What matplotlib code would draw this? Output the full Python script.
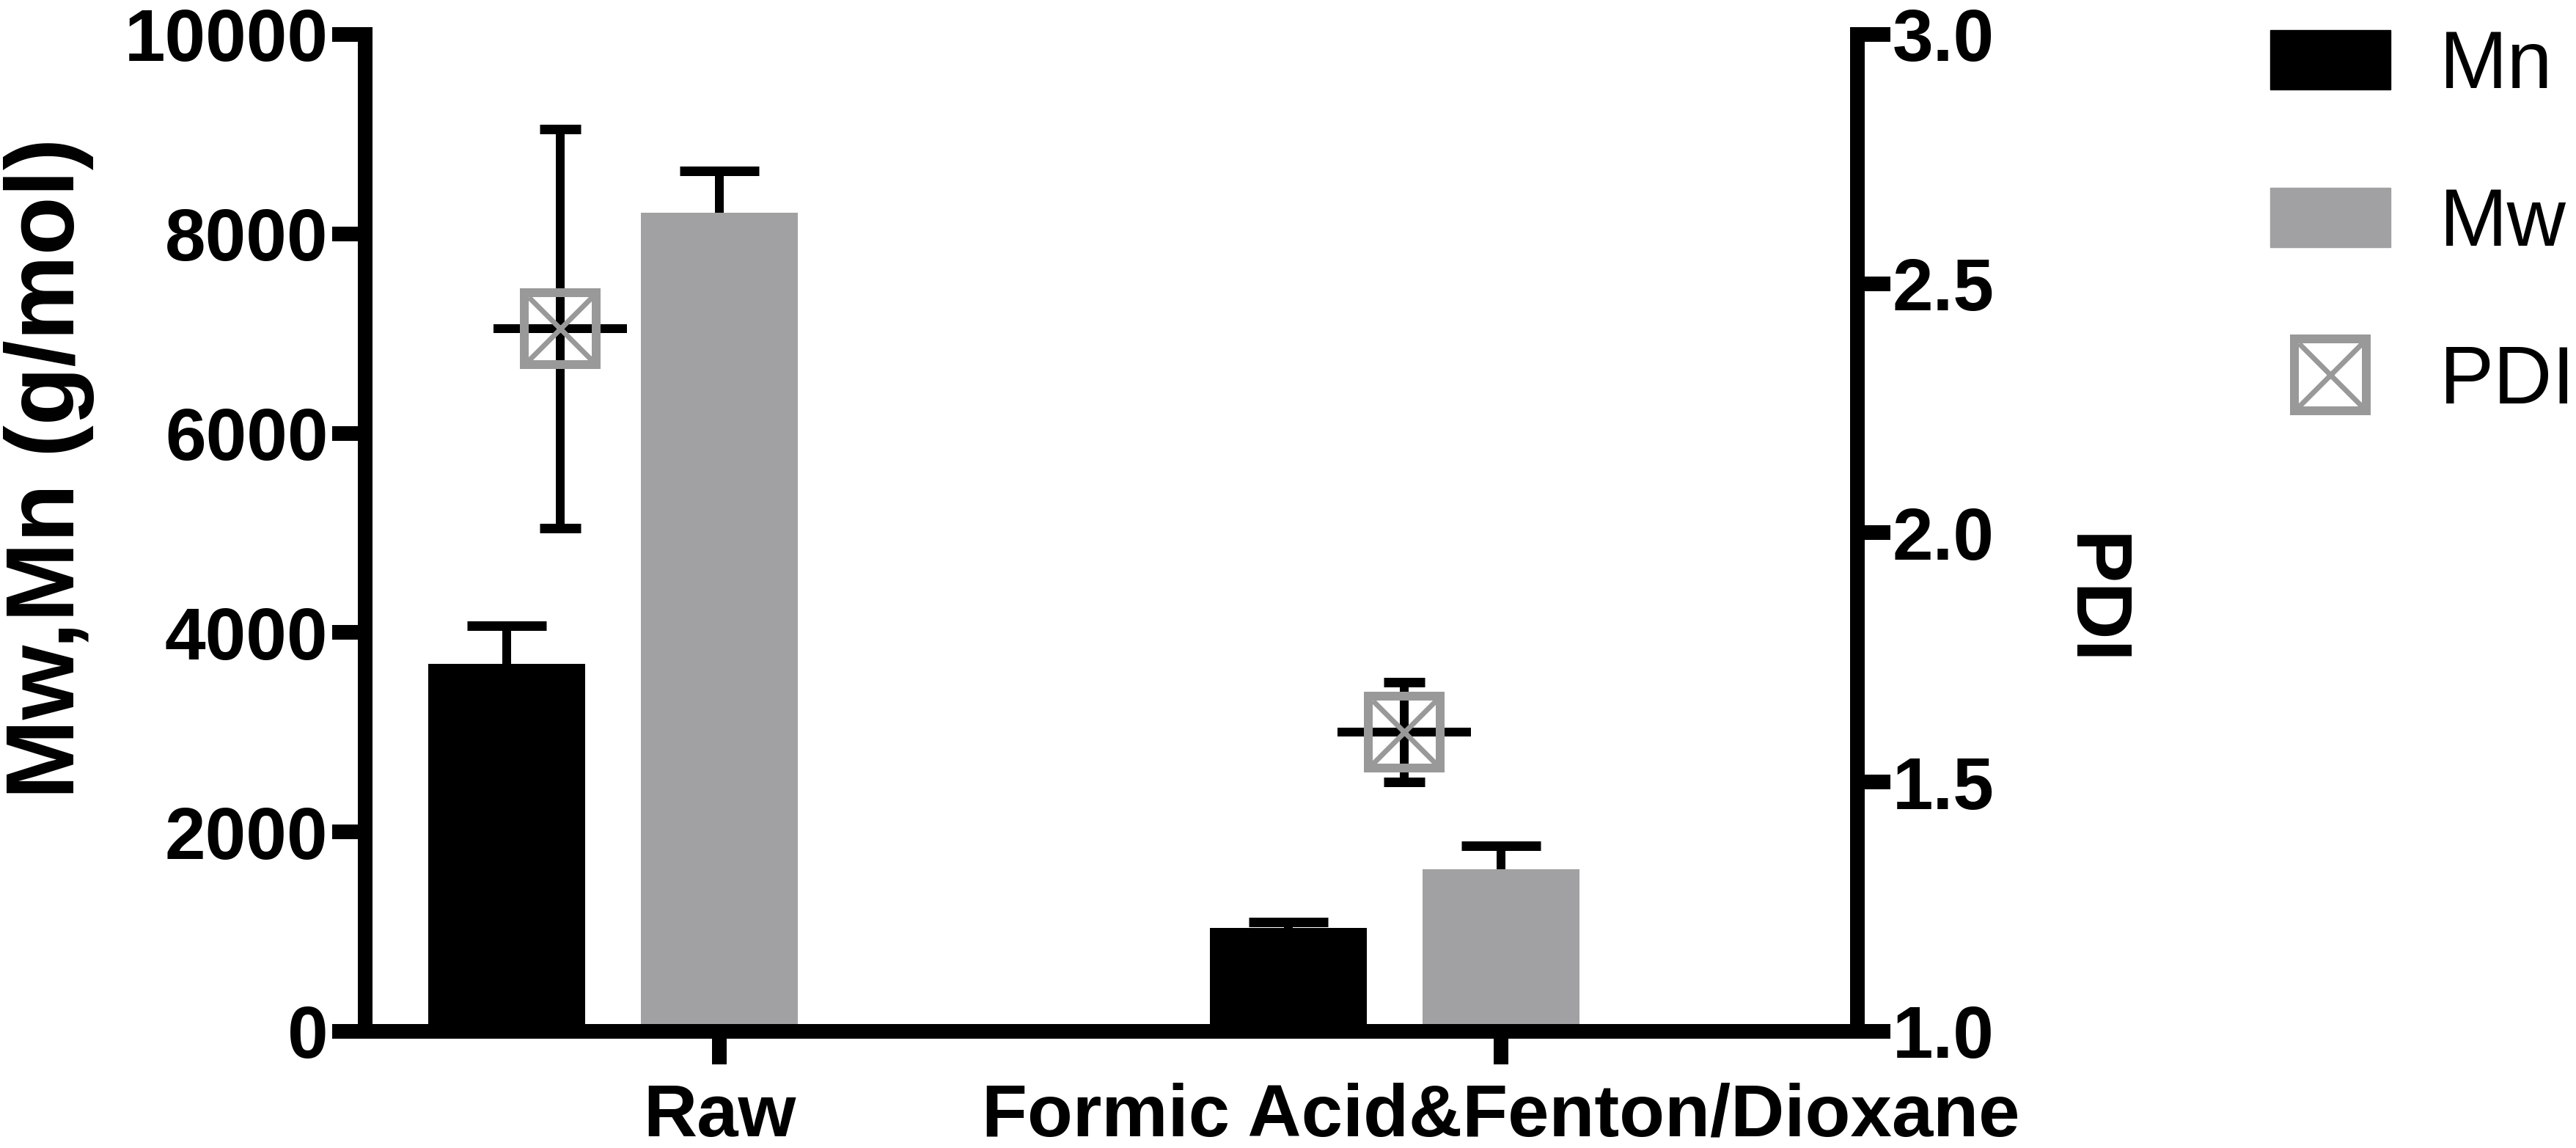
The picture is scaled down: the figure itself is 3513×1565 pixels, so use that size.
import matplotlib
matplotlib.use('Agg')
import matplotlib.pyplot as plt
import numpy as np
from matplotlib.patches import Patch
from matplotlib.lines import Line2D
from matplotlib.legend_handler import HandlerTuple

# values
groups = ['Raw', 'Formic Acid&Fenton/Dioxane']
mn = [3690, 1040]
mn_err = [380, 60]
mw = [8210, 1625]
mw_err = [420, 235]
pdi = [2.41, 1.60]
pdi_err = [0.40, 0.10]

plt.rcParams['font.family'] = ['Liberation Sans', 'DejaVu Sans']
plt.rcParams['font.weight'] = 'bold'

BLACK = '#000000'
MW_GRAY = '#a1a1a4'
PDI_GRAY = '#999999'
PX = 0.72  # one pixel in points at dpi 100

fig = plt.figure(figsize=(35.13, 15.65), dpi=100)
ax = fig.add_axes([0.14176, 0.10160, 0.57928, 0.86837])
ax2 = ax.twinx()

x = np.arange(len(groups))
width = 0.2
mn_off = -0.272
pdi_off = np.array([-0.2036, -0.124])

# bars + upward-only error bars
ax.bar(x + mn_off, mn, width, color=BLACK, zorder=2)
ax.bar(x, mw, width, color=MW_GRAY, zorder=2)
err_style = dict(fmt='none', ecolor=BLACK, elinewidth=12 * PX,
                 capsize=54 * PX, capthick=13 * PX, zorder=3)
for xs, vals, errs in [(x + mn_off, mn, mn_err), (x, mw, mw_err)]:
    eb = ax.errorbar(xs, vals, yerr=[np.zeros(len(vals)), errs], **err_style)
    eb[1][0].set_visible(False)  # drop the cap sitting on the bar top

# PDI on the right axis
xp = x + pdi_off
ax2.errorbar(xp, pdi, yerr=pdi_err, fmt='none', ecolor=BLACK,
             elinewidth=12 * PX, capsize=28 * PX, capthick=13 * PX, zorder=2)
ax2.plot(xp, pdi, linestyle='none', marker='_', ms=182 * PX,
         mew=12 * PX, color=BLACK, zorder=3)
ax2.plot(xp, pdi, linestyle='none', marker='s', ms=98 * PX, mfc='none',
         mec=PDI_GRAY, mew=12 * PX, zorder=4)
ax2.plot(xp, pdi, linestyle='none', marker='x', ms=86 * PX,
         mec=PDI_GRAY, mew=7 * PX, zorder=4)

# axes
ax.set_xlim(-0.4531, 1.4559)
ax.set_ylim(0, 10000)
ax.set_yticks(range(0, 10001, 2000))
ax.set_xticks(x)
ax.set_xticklabels(groups)
ax2.set_ylim(1, 3)
ax2.set_yticks([1.0, 1.5, 2.0, 2.5, 3.0])
ax2.set_yticklabels(['%.1f' % v for v in [1.0, 1.5, 2.0, 2.5, 3.0]])

for s in ['top', 'right']:
    ax.spines[s].set_visible(False)
for s in ['top', 'left', 'bottom']:
    ax2.spines[s].set_visible(False)
for sp in [ax.spines['left'], ax.spines['bottom'], ax2.spines['right']]:
    sp.set_linewidth(20 * PX)
    sp.set_capstyle('projecting')

ax.tick_params(axis='both', length=45 * PX, width=20 * PX, labelsize=72)
ax.tick_params(axis='y', pad=4)
ax.tick_params(axis='x', pad=18, labelsize=73)
ax2.tick_params(axis='y', length=45 * PX, width=20 * PX, labelsize=72, pad=2)

fig.text(67 / 3513, 1 - 638 / 1565, 'Mw,Mn (g/mol)', rotation=90,
         ha='center', va='center', fontsize=94, fontweight='bold')
fig.text(2853 / 3513, 1 - 818 / 1565, 'PDI', rotation=270,
         ha='center', va='center', fontsize=78, fontweight='bold')

# legend
h_mn = Patch(facecolor=BLACK, edgecolor=BLACK)
h_mw = Patch(facecolor=MW_GRAY, edgecolor=MW_GRAY)
h_pdi = (Line2D([], [], linestyle='none', marker='s', ms=98 * PX, mfc='none',
                mec=PDI_GRAY, mew=12 * PX),
         Line2D([], [], linestyle='none', marker='x', ms=86 * PX,
                mec=PDI_GRAY, mew=7 * PX))
fig.legend([h_mn, h_mw, h_pdi], ['Mn', 'Mw', 'PDI'],
           handler_map={tuple: HandlerTuple(ndivide=1)},
           loc='upper left', bbox_to_anchor=(3096 / 3513, 0.975),
           frameon=False, prop={'size': 80, 'weight': 'normal'},
           handlelength=1.48, handleheight=0.75, labelspacing=1.0,
           handletextpad=0.6, borderpad=0, borderaxespad=0)

fig.savefig('out.png', dpi=100)
plt.close(fig)
